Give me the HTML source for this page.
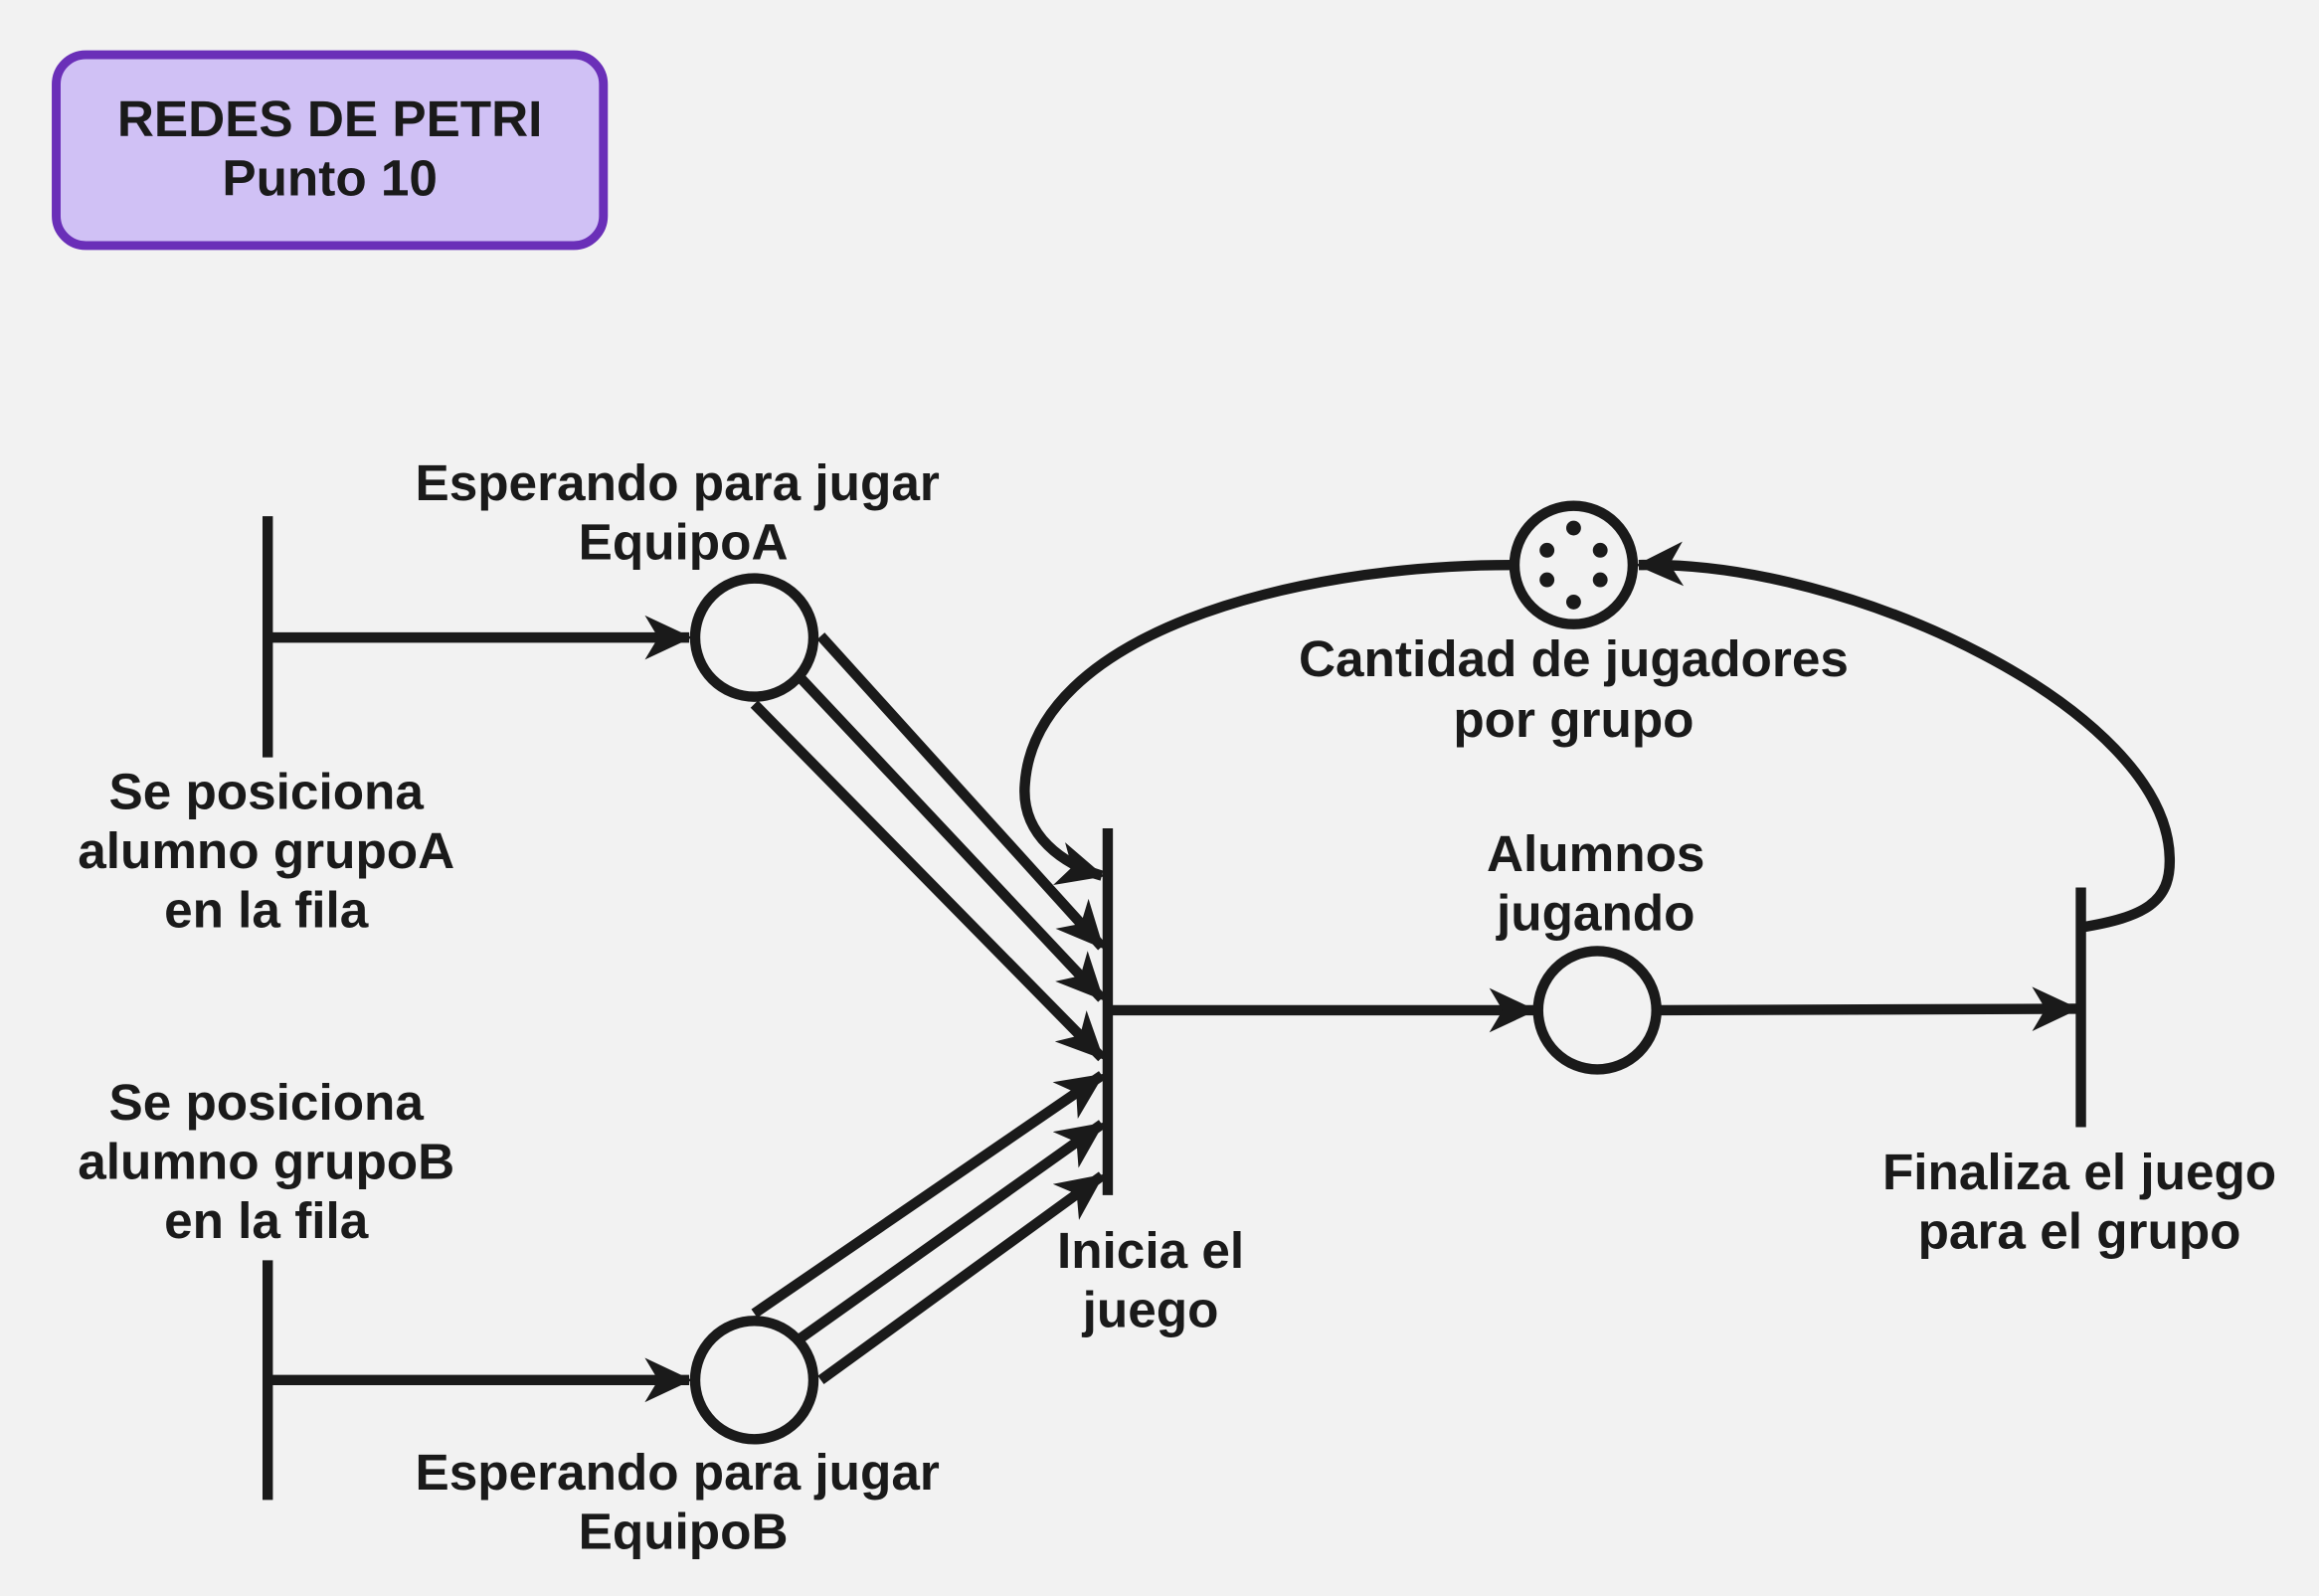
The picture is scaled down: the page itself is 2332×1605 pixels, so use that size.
<!DOCTYPE html>
<html><head><meta charset="utf-8"><style>
html,body{margin:0;padding:0;background:#f2f2f2}
svg{display:block}
text{font-family:"Liberation Sans",sans-serif;font-weight:bold;font-size:34.5px;fill:#1a1a1a;text-anchor:middle}
</style></head><body>
<svg width="2332" height="1605" viewBox="0 0 1568 1079" preserveAspectRatio="none" xmlns="http://www.w3.org/2000/svg">
<defs>
<marker id="a" markerUnits="userSpaceOnUse" markerWidth="34" markerHeight="32" refX="30" refY="16" orient="auto">
<path d="M0,1 L32,16 L0,31 L9,16 z" fill="#1a1a1a"/>
</marker>
</defs>
<rect width="1568" height="1079" fill="#f2f2f2"/>
<rect x="38" y="37" width="370" height="129" rx="20" fill="#d0c1f5" stroke="#6a2fb8" stroke-width="6"/>
<text x="223" y="92">REDES DE PETRI</text>
<text x="223" y="132">Punto 10</text>
<g stroke="#1a1a1a" stroke-width="7" fill="none">
<line x1="181" y1="349" x2="181" y2="512"/>
<line x1="181" y1="852" x2="181" y2="1014"/>
<line x1="749" y1="560" x2="749" y2="808"/>
<line x1="1407" y1="600" x2="1407" y2="762"/>
<line x1="181" y1="431" x2="466" y2="431" marker-end="url(#a)"/>
<line x1="181" y1="933" x2="466" y2="933" marker-end="url(#a)"/>
<circle cx="510" cy="431" r="40"/>
<circle cx="510" cy="933" r="40"/>
<circle cx="1080" cy="683" r="40"/>
<circle cx="1064" cy="382" r="40"/>
<line x1="555" y1="430" x2="745" y2="640" marker-end="url(#a)"/>
<line x1="541" y1="458" x2="745" y2="675" marker-end="url(#a)"/>
<line x1="510" y1="476" x2="745" y2="715" marker-end="url(#a)"/>
<line x1="510" y1="888" x2="745" y2="727" marker-end="url(#a)"/>
<line x1="541" y1="905" x2="745" y2="760" marker-end="url(#a)"/>
<line x1="555" y1="933" x2="745" y2="795" marker-end="url(#a)"/>
<line x1="749" y1="683" x2="1037" y2="683" marker-end="url(#a)"/>
<line x1="1122" y1="683" x2="1404" y2="682" marker-end="url(#a)"/>
<path d="M1407,627 C1450,620 1468,610 1467,580 C1465,480 1250,378 1108,382" marker-end="url(#a)"/>
<path d="M1022,382 C870,382 700,430 693,530 C690,565 720,585 745,592" marker-end="url(#a)"/>
</g>
<g fill="#1a1a1a">
<circle cx="1064" cy="357" r="5"/><circle cx="1046" cy="372" r="5"/><circle cx="1082" cy="372" r="5"/>
<circle cx="1046" cy="392" r="5"/><circle cx="1082" cy="392" r="5"/><circle cx="1064" cy="407" r="5"/>
</g>
<text x="458" y="338">Esperando para jugar</text>
<text x="462" y="378">EquipoA</text>
<text x="180" y="547">Se posiciona</text>
<text x="180" y="587">alumno grupoA</text>
<text x="180" y="627">en la fila</text>
<text x="180" y="757">Se posiciona</text>
<text x="180" y="797">alumno grupoB</text>
<text x="180" y="837">en la fila</text>
<text x="458" y="1007">Esperando para jugar</text>
<text x="462" y="1047">EquipoB</text>
<text x="778" y="857">Inicia el</text>
<text x="778" y="897">juego</text>
<text x="1079" y="589">Alumnos</text>
<text x="1079" y="629">jugando</text>
<text x="1406" y="804">Finaliza el juego</text>
<text x="1406" y="844">para el grupo</text>
<text x="1064" y="457">Cantidad de jugadores</text>
<text x="1064" y="498">por grupo</text>
</svg>
</body></html>
